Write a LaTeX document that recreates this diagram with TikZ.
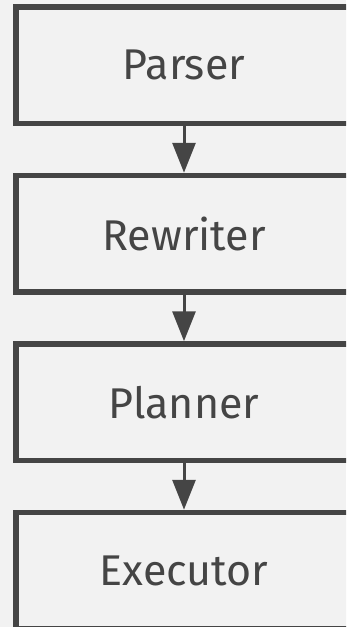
\documentclass[tikz,border=0pt]{standalone}
\usepackage{fontspec}
\setsansfont{Fira Sans}
\usepackage{tikz}
\usetikzlibrary{positioning,arrows.meta}
\definecolor{stagegray}{HTML}{F2F2F2}
\definecolor{edgegray}{HTML}{454545}

\begin{document}
\begin{tikzpicture}[x=1pt, y=1pt,
  stage/.style={rectangle, draw=edgegray, line width=5.5pt, fill=stagegray,
                minimum width=336pt, minimum height=116.5pt, align=center,
                text=edgegray, font=\fontsize{43}{50}\selectfont\sffamily},
  flow/.style={-{Triangle[length=30pt, width=23pt]}, draw=edgegray,
               fill=edgegray, line width=3pt},
]
  \fill[stagegray] (0,0) rectangle (346,-627);
  \useasboundingbox (0,0) rectangle (346,-627);
  \clip (0,0) rectangle (346,-627);

  \node[stage] (parser) at (184,-65.25) {Parser};
  \node[stage, below=46.5pt of parser] (rewriter) {Rewriter};
  \node[stage, below=46.5pt of rewriter] (planner) {Planner};
  \node[stage, below=46.5pt of planner] (executor) {Executor};

  \draw[flow] (parser) -- (rewriter);
  \draw[flow] (rewriter) -- (planner);
  \draw[flow] (planner) -- (executor);
\end{tikzpicture}
\end{document}
